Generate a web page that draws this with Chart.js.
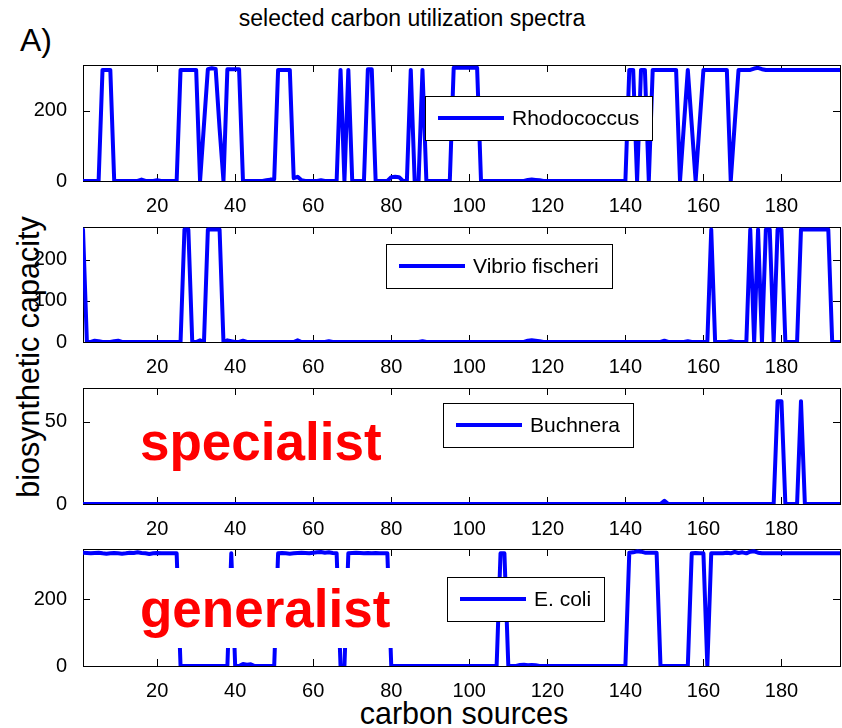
<!DOCTYPE html>
<html>
<head>
<meta charset="utf-8">
<script src="https://cdn.jsdelivr.net/npm/chart.js@4.4.1/dist/chart.umd.min.js"></script>
<style>
  html, body { margin: 0; padding: 0; background: #fff; }
  body { width: 842px; height: 728px; position: relative; overflow: hidden;
         font-family: "Liberation Sans", Arial, sans-serif; }
  canvas { position: absolute; left: 0; }
  .lbl { position: absolute; color: #000; white-space: nowrap; line-height: 1; }
</style>
</head>
<body>
<div class="lbl" style="left:20px;top:24px;font-size:32px;">A)</div>
<div class="lbl" style="left:412px;top:18px;font-size:23px;transform:translate(-50%,-50%);">selected carbon utilization spectra</div>
<div class="lbl" style="left:28px;top:357px;font-size:30.5px;transform:translate(-50%,-50%) rotate(-90deg);">biosynthetic capacity</div>
<div class="lbl" style="left:464px;top:713px;font-size:30.5px;transform:translate(-50%,-50%);">carbon sources</div>

<canvas id="c1" width="842" height="160" style="top:53px"></canvas>
<canvas id="c2" width="842" height="159" style="top:215px"></canvas>
<canvas id="c3" width="842" height="160" style="top:376px"></canvas>
<canvas id="c4" width="842" height="161" style="top:537px"></canvas>

<script>
// Biosynthetic capacity per carbon source (sources 1..195)
const rhodococcus = [
  0,0,0,0,0,316,316,316,0,0,0,0,0,0,0,
  4,0,0,0,2,0,0,0,0,0,316,316,316,316,316,
  0,160,318,321,319,150,0,318,318,318,318,0,0,0,0,
  0,0,2,4,5,316,316,316,316,8,12,2,0,0,0,
  0,2,0,0,0,0,316,0,316,0,0,0,0,318,318,
  0,0,0,0,11,12,11,0,0,316,0,0,316,0,0,
  0,0,0,0,0,322,322,322,322,322,322,322,0,0,0,
  0,0,0,0,0,0,0,0,0,3,4,3,2,0,0,
  0,0,0,0,0,0,0,0,0,0,0,0,0,0,0,
  0,0,0,0,0,316,316,0,316,316,0,316,316,316,316,
  316,316,316,0,160,316,160,0,160,316,316,316,316,316,316,
  316,0,160,316,316,316,316,320,322,318,316,316,316,316,316,
  316,316,316,316,316,316,316,316,316,316,316,316,316,316,316
];
const vibrioFischeri = [
  274,0,0,3,2,0,0,0,2,3,0,0,0,0,0,
  0,0,0,0,0,0,0,0,0,0,0,274,274,0,0,
  4,0,274,274,274,274,0,4,2,0,0,3,0,0,0,
  0,0,0,0,0,0,0,0,0,0,4,0,0,0,0,
  0,0,0,2,0,0,0,0,0,0,0,0,0,0,0,
  0,0,0,0,0,0,0,0,0,0,0,0,2,0,0,
  0,0,0,0,0,0,0,0,0,0,0,0,0,0,0,
  0,0,0,0,0,0,0,0,0,3,4,3,2,0,0,
  0,0,0,0,0,0,0,0,0,0,0,0,0,0,0,
  0,0,0,0,0,0,0,0,0,0,0,0,0,0,3,
  0,0,0,0,0,2,0,0,0,0,0,274,0,0,0,
  0,2,0,0,0,0,274,0,274,0,274,274,0,274,274,
  0,0,0,0,274,274,274,274,274,274,274,274,0,0,0
];
const buchnera = [
  0,0,0,0,0,0,0,0,0,0,0,0,0,0,0,
  0,0,0,0,0,0,0,0,0,0,0,0,0,0,0,
  0,0,0,0,0,0,0,0,0,0,0,0,0,0,0,
  0,0,0,0,0,0,0,0,0,0,0,0,0,0,0,
  0,0,0,0,0,0,0,0,0,0,0,0,0,0,0,
  0,0,0,0,0,0,0,0,0,0,0,0,0,0,0,
  0,0,0,0,0,0,0,0,0,0,0,0,0,0,0,
  0,0,0,0,0,0,0,0,0,0,0,0,0,0,0,
  0,0,0,0,0,0,0,0,0,0,0,0,0,0,0,
  0,0,0,0,0,0,0,0,0,0,0,0,0,0,2,
  0,0,0,0,0,0,0,0,0,0,0,0,0,0,0,
  0,0,0,0,0,0,0,0,0,0,0,0,0,62.5,62.5,
  0,0,0,0,62.5,0,0,0,0,0,0,0,0,0,0
];
const eColi = [
  340,339,338,339,340,338,337,338,339,338,337,338,340,339,341,
  339,338,336,338,339,338,338,338,338,338,0,0,0,0,0,
  0,0,0,0,0,0,0,0,338,0,0,6,4,5,0,
  0,0,0,0,0,338,339,338,337,338,339,340,339,338,340,
  341,342,340,341,339,338,0,0,338,339,340,339,338,339,338,
  339,338,338,338,0,0,0,0,0,0,0,0,0,0,0,
  0,0,0,0,0,0,0,0,0,0,0,0,0,0,0,
  0,0,338,338,0,0,0,3,4,2,3,2,0,0,0,
  0,0,0,0,0,0,0,0,0,0,0,0,0,0,0,
  0,0,0,0,0,340,341,344,343,340,340,340,340,0,0,
  0,0,0,0,0,0,338,339,338,338,0,338,338,338,338,
  340,338,342,339,341,338,343,344,340,338,338,338,338,338,338,
  338,338,338,338,338,338,338,338,338,338,338,338,338,338,338
];

// Axis ticks
const xTicks = [20, 40, 60, 80, 100, 120, 140, 160, 180];
const yTicksRhodococcus = [0, 200];
const yTicksVibrio = [0, 100, 200];
const yTicksBuchnera = [0, 50];
const yTicksEColi = [0, 200];

const X_MIN = 1, X_MAX = 195;
const TICK_FONT = { family: '"Liberation Sans", Arial, sans-serif', size: 20 };
const LEGEND_FONT = '21px "Liberation Sans", Arial, sans-serif';

// Box around the axes with short inward tick marks on all four sides
const axesFrame = {
  id: 'axesFrame',
  beforeDatasetsDraw(chart) {
    const { ctx, chartArea: a, scales } = chart;
    const len = 7;
    ctx.save();
    ctx.strokeStyle = '#000';
    ctx.lineWidth = 1;
    ctx.beginPath();
    scales.x.ticks.forEach(t => {
      const px = Math.round(scales.x.getPixelForValue(t.value)) + 0.5;
      ctx.moveTo(px, a.bottom); ctx.lineTo(px, a.bottom - len);
      ctx.moveTo(px, a.top); ctx.lineTo(px, a.top + len);
    });
    scales.y.ticks.forEach(t => {
      const py = Math.round(scales.y.getPixelForValue(t.value)) + 0.5;
      ctx.moveTo(a.left, py); ctx.lineTo(a.left + len, py);
      ctx.moveTo(a.right, py); ctx.lineTo(a.right - len, py);
    });
    ctx.stroke();
    ctx.strokeRect(Math.round(a.left) + 0.5, Math.round(a.top) + 0.5,
                   Math.round(a.right - a.left), Math.round(a.bottom - a.top));
    ctx.restore();
  }
};

// Large red label on a white patch inside the axes
const callout = {
  id: 'callout',
  afterDatasetsDraw(chart, args, opts) {
    if (!opts || !opts.text) return;
    const { ctx, chartArea: a } = chart;
    ctx.save();
    if (opts.patch) {
      ctx.fillStyle = '#fff';
      ctx.fillRect(a.left + opts.patch[0], a.top + opts.patch[1], opts.patch[2], opts.patch[3]);
    }
    ctx.fillStyle = '#ff0000';
    ctx.font = opts.font;
    ctx.textBaseline = 'alphabetic';
    ctx.fillText(opts.text, a.left + opts.x, a.top + opts.baseline);
    ctx.restore();
  }
};

// Boxed legend placed inside the axes
const inlineLegend = {
  id: 'inlineLegend',
  afterDatasetsDraw(chart, args, opts) {
    const { ctx, chartArea: a } = chart;
    const ds = chart.data.datasets[0];
    const padL = 13, lineLen = 66, gap = 8, padR = 13, h = 44;
    ctx.save();
    ctx.font = LEGEND_FONT;
    const tw = ctx.measureText(ds.label).width;
    const x = Math.round(a.left + opts.dx), y = Math.round(a.top + opts.dy);
    const w = Math.round(padL + lineLen + gap + tw + padR);
    ctx.fillStyle = '#fff';
    ctx.fillRect(x, y, w, h);
    ctx.strokeStyle = '#000';
    ctx.lineWidth = 1;
    ctx.strokeRect(x + 0.5, y + 0.5, w, h);
    ctx.strokeStyle = ds.borderColor;
    ctx.lineWidth = ds.borderWidth;
    ctx.beginPath();
    ctx.moveTo(x + padL, y + h / 2);
    ctx.lineTo(x + padL + lineLen, y + h / 2);
    ctx.stroke();
    ctx.fillStyle = '#000';
    ctx.textBaseline = 'middle';
    ctx.fillText(ds.label, x + padL + lineLen + gap, y + h / 2 + 1);
    ctx.restore();
  }
};

function makePanel(canvasId, label, values, yMax, yTicks, legendPos, calloutOpts) {
  const points = values.map((v, i) => ({ x: i + 1, y: v }));
  return new Chart(document.getElementById(canvasId), {
    type: 'line',
    data: {
      datasets: [{
        label: label,
        data: points,
        borderColor: '#0000ff',
        backgroundColor: '#0000ff',
        borderWidth: 4,
        pointRadius: 0,
        tension: 0,
        fill: false,
        borderJoinStyle: 'round',
        borderCapStyle: 'round'
      }]
    },
    options: {
      responsive: false,
      animation: false,
      devicePixelRatio: 1,
      layout: { padding: { top: 12, right: 2, left: 0, bottom: 0 } },
      plugins: {
        legend: { display: false },
        tooltip: { enabled: false },
        inlineLegend: legendPos,
        callout: calloutOpts || {}
      },
      scales: {
        x: {
          type: 'linear',
          min: X_MIN,
          max: X_MAX,
          grid: { display: false },
          border: { display: false },
          afterBuildTicks: s => { s.ticks = xTicks.map(v => ({ value: v })); },
          afterFit: s => { s.height = 32; s.paddingLeft = 0; s.paddingRight = 0; },
          ticks: { font: TICK_FONT, color: '#000', padding: 5, maxRotation: 0, autoSkip: false }
        },
        y: {
          type: 'linear',
          min: 0,
          max: yMax,
          grid: { display: false },
          border: { display: false },
          afterBuildTicks: s => { s.ticks = yTicks.map(v => ({ value: v })); },
          afterFit: s => { s.width = 83; s.paddingTop = 0; s.paddingBottom = 0; },
          ticks: { font: TICK_FONT, color: '#000', padding: 8 }
        }
      }
    },
    plugins: [axesFrame, callout, inlineLegend]
  });
}

makePanel('c1', 'Rhodococcus', rhodococcus, 330, yTicksRhodococcus, { dx: 342, dy: 31 });
makePanel('c2', 'Vibrio fischeri', vibrioFischeri, 280, yTicksVibrio, { dx: 303, dy: 17 });
makePanel('c3', 'Buchnera', buchnera, 70.5, yTicksBuchnera, { dx: 360, dy: 15 },
  { text: 'specialist', font: 'bold 53px "Liberation Sans", Arial, sans-serif', x: 57, baseline: 72 });
makePanel('c4', 'E. coli', eColi, 351, yTicksEColi, { dx: 364, dy: 28 },
  { text: 'generalist', font: 'bold 53px "Liberation Sans", Arial, sans-serif', x: 57, baseline: 78,
    patch: [53, 19, 258, 80] });
</script>
</body>
</html>
